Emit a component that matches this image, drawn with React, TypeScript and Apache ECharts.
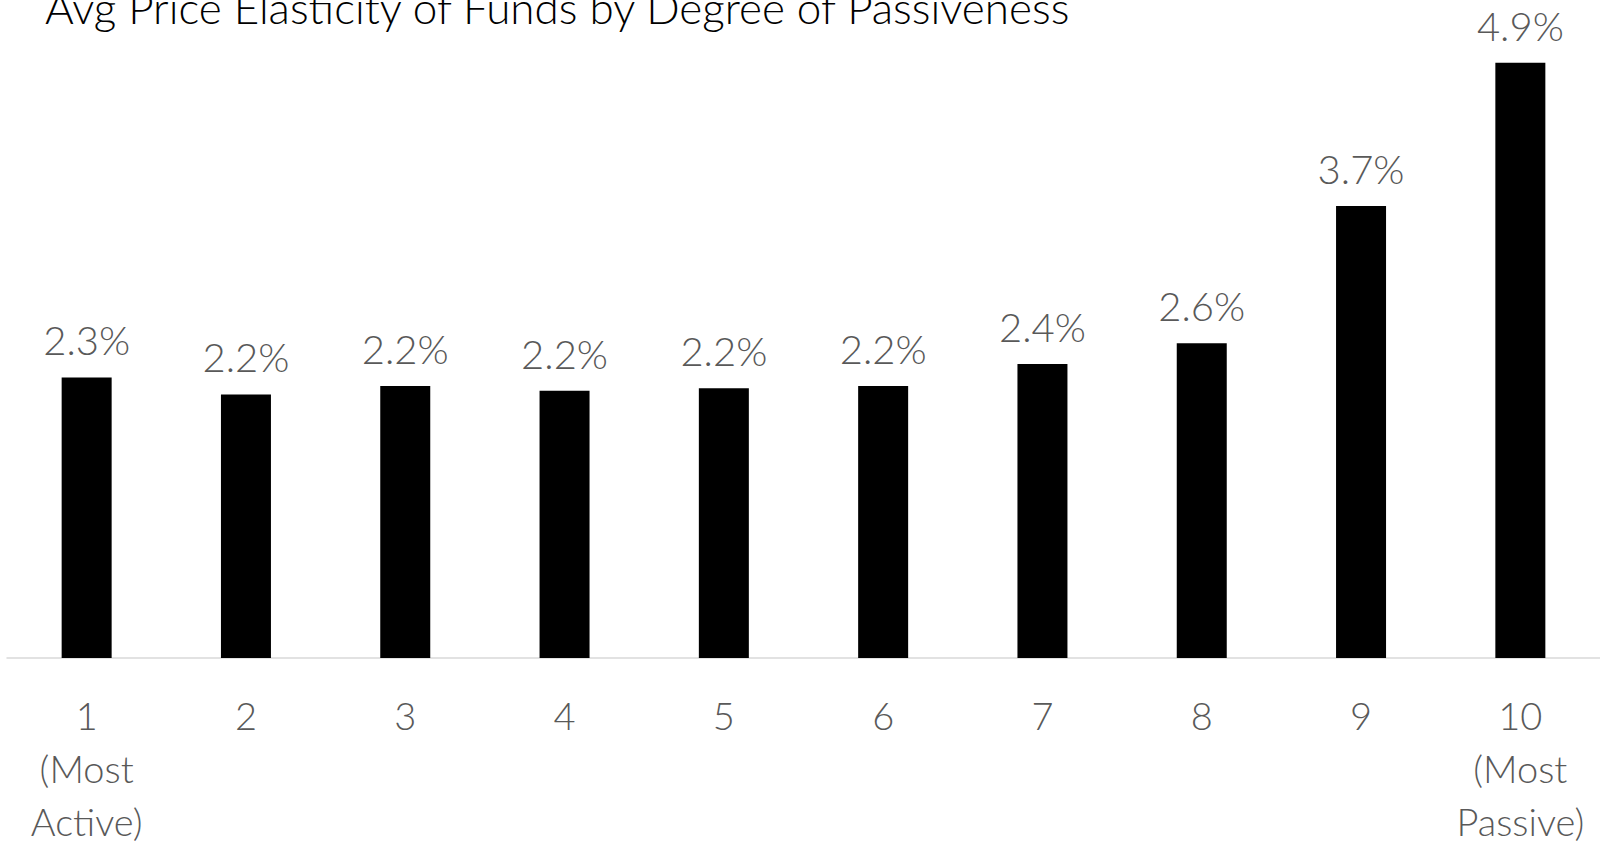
import React, { useEffect, useRef } from "react";
import * as echarts from "echarts";

const categories = ["1\n(Most\nActive)", "2", "3", "4", "5", "6", "7", "8", "9", "10\n(Most\nPassive)"];
const elasticity = [2.31, 2.17, 2.24, 2.2, 2.22, 2.24, 2.42, 2.59, 3.72, 4.9];
const titleText = "Avg Price Elasticity of Funds by Degree of Passiveness";

const FONT = "Lato";

export default function App() {
  const ref = useRef<HTMLDivElement>(null);
  useEffect(() => {
    if (!ref.current) return;
    const chart = echarts.init(ref.current, null, { renderer: "svg" });
    chart.setOption({
      animation: false,
      backgroundColor: "#ffffff",
      title: {
        text: titleText,
        left: 40,
        top: -20,
        textStyle: { fontFamily: FONT, fontWeight: 300, fontSize: 44, color: "#000000", lineHeight: 44 },
      },
      grid: { left: 7, top: 2, width: 1600, bottom: 186, containLabel: false },
      xAxis: {
        type: "category",
        data: categories,
        axisLine: { lineStyle: { color: "#d9d9d9", width: 1.5 } },
        axisTick: { show: false },
        axisLabel: {
          interval: 0,
          margin: 30,
          fontFamily: FONT,
          fontWeight: 300,
          fontSize: 38,
          lineHeight: 53,
          color: "#595959",
          verticalAlign: "top",
        },
      },
      yAxis: {
        type: "value",
        min: 0,
        max: 5.4,
        show: false,
        splitLine: { show: false },
      },
      series: [
        {
          type: "bar",
          data: elasticity,
          barWidth: 50,
          itemStyle: { color: "#000000" },
          label: {
            show: true,
            position: "top",
            distance: 17,
            fontFamily: FONT,
            fontWeight: 300,
            fontSize: 40,
            color: "#595959",
            formatter: (p: any) => p.value.toFixed(1) + "%",
          },
        },
      ],
    });
    return () => chart.dispose();
  }, []);
  return <div ref={ref} style={{ width: 1600, height: 847, position: "absolute", left: 0, top: 0 }} />;
}
